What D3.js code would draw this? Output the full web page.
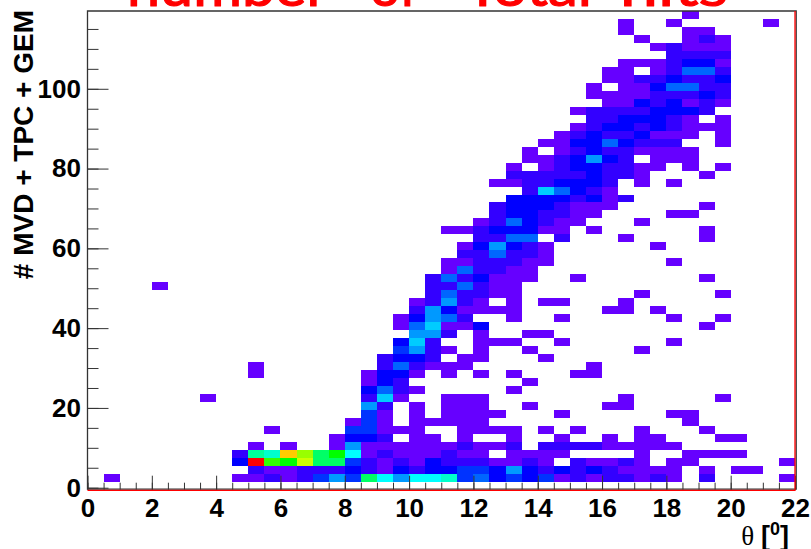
<!DOCTYPE html>
<html lang="en">
<head>
    <meta charset="UTF-8">
    <title>Number of total hits</title>
    <script src="https://d3js.org/d3.v7.min.js"></script>
    <style>
        body{
            margin: 0;
            background-color: #ffffff;
        }
        svg{
            display: block;
        }
        .tick-label text, .axis-title{
            font-family: 'Liberation Sans', sans-serif;
            font-weight: bold;
            fill: #000000;
        }
        .title-word{
            font-family: 'Lato', sans-serif;
            font-size: 54px;
            fill: #ff0000;
            stroke: #ff0000;
            stroke-width: 1.2px;
            stroke-linejoin: round;
        }
    </style>
</head>
<body>
    <svg id="canvas" width="811" height="549"></svg>
<script>
let thetaMax = 22
let thetaBinWidth = 0.5
let hitsBinWidth = 2
let hitsRange = [-0.5, 119.5]

let thetaLabels = [0, 2, 4, 6, 8, 10, 12, 14, 16, 18, 20, 22]
let hitsLabels = [0, 20, 40, 60, 80, 100]
let thetaMinor = d3.range(0, 22.5, 0.5)
let hitsMinor = d3.range(0, 120, 5)

let titleWords = ['number', 'of', 'Total', 'hits']
let titleStarts = [127, 370, 465, 620]
let titleEnds = [328, 418, 592, 728]

// one entry per hits bin (bin 0 is empty), { theta bin : entries }
let hitsBins = d3.range(1, 60)
let binCounts = [
    {1:1,9:1,10:1,11:2,12:1,13:2,14:4,15:6,16:4,17:11,18:8,19:6,20:8,21:8,22:9,23:4,24:5,25:3,26:4,27:3,28:4,29:1,30:2,31:1,32:2,33:2,34:1,35:2,36:1,38:2,43:1},
    {10:2,11:1,12:1,13:2,14:2,15:2,16:3,17:2,18:1,19:3,20:2,21:3,22:3,23:4,24:4,25:3,26:6,27:3,28:2,29:3,30:2,31:3,32:2,33:1,34:1,35:1,36:1,38:1,40:1,41:1},
    {9:3,10:23,11:14,12:13,13:17,14:11,15:11,16:4,17:2,18:1,19:2,20:1,21:3,22:2,23:2,24:2,25:1,26:1,27:2,28:1,30:2,31:1,32:1,33:2,34:1,36:1,37:1,43:1},
    {9:2,10:10,11:9,12:19,13:16,14:11,15:13,16:8,17:1,18:2,19:1,20:1,21:1,22:2,23:1,24:1,26:1,27:1,28:1,29:1,34:1,37:1,38:1,39:1,40:1},
    {10:1,12:1,15:1,16:6,17:1,18:1,19:1,20:1,21:1,22:1,23:2,24:1,25:1,26:2,28:2,29:2,30:2,31:2,32:1,33:1,34:1,35:1,36:1},
    {15:1,16:3,17:3,18:2,20:1,21:1,23:1,26:1,29:1,32:1,34:1,35:1,39:1,40:1},
    {11:1,16:4,17:4,18:1,19:1,20:1,23:1,24:1,25:1,26:1,28:1,30:1,34:1,38:1},
    {16:1,17:4,18:1,20:1,21:1,22:1,23:1,24:1,37:1},
    {17:4,18:1,20:1,22:1,23:1,24:1,25:1,29:1,36:1,37:1},
    {17:6,18:2,20:1,22:1,23:1,24:1,27:1,32:1,33:1},
    {7:1,17:2,18:7,19:1,22:1,23:1,24:1,33:1,39:1},
    {17:3,18:5,19:2,20:1,26:1},
    {17:1,18:3,19:2,27:1},
    {10:1,17:1,18:3,19:3,20:1,22:1,24:1,26:1,30:1,31:1},
    {10:1,18:2,19:5,20:2,21:1,22:1,23:1,31:1},
    {18:2,19:3,20:3,21:2,23:1,24:1,28:1},
    {19:4,20:6,21:2,22:1,24:1,27:1,34:1},
    {19:3,20:7,21:2,24:1,25:1,26:1,29:1,36:1},
    {20:6,21:6,22:2,24:1,27:1,28:1},
    {19:1,20:5,21:7,22:1,23:1,24:3,38:1},
    {19:1,20:3,21:6,22:5,23:2,26:1,29:1,36:1,39:1},
    {20:2,21:6,22:3,23:1,24:1,25:1,26:1,32:1,33:1,35:1},
    {20:1,21:2,22:6,23:2,24:1,26:1,28:1,29:1,33:1},
    {21:2,22:5,23:2,24:2,25:1,26:1,34:1,39:1},
    {4:1,21:2,22:2,23:5,24:2,25:1,26:1},
    {21:2,22:5,23:2,24:3,25:1,26:1,27:1,30:1,38:1},
    {22:1,23:5,24:2,25:2,26:1,27:1},
    {22:1,23:1,24:2,25:2,26:2,27:1,28:1,36:1},
    {23:2,24:2,25:5,26:2,27:2,28:1},
    {23:1,24:3,25:6,26:3,27:2,28:1,35:1},
    {24:2,25:2,26:5,27:5,29:2,33:1,38:1},
    {22:1,23:1,24:2,25:3,26:3,27:3,28:1,29:1,31:1,38:1},
    {24:1,25:2,26:5,27:3,28:2,29:1,30:1,34:1},
    {25:2,26:3,27:3,28:2,29:2,30:1,31:1,36:1,37:1},
    {25:2,26:3,27:3,28:3,29:2,30:1,31:1,32:1,38:1},
    {26:3,27:3,28:3,29:3,30:2,31:3,32:1,33:2},
    {27:2,28:7,29:5,30:3,31:2,32:1},
    {25:1,26:1,27:2,28:2,29:3,30:3,31:3,32:2,34:1,36:1},
    {26:2,27:2,28:2,29:2,30:2,31:3,32:2,33:2,34:1,38:1},
    {26:1,28:1,29:2,30:3,31:3,32:2,33:2,34:1,35:1,37:1,39:1},
    {27:1,28:1,29:2,30:3,31:6,32:3,33:2,35:1,36:1,37:1},
    {27:1,29:1,30:2,31:3,32:2,33:2,34:1,35:1,36:1,37:1},
    {28:1,29:1,30:3,31:3,32:5,33:3,34:2,35:2,36:2,39:1},
    {29:1,30:2,31:3,32:2,33:2,34:3,35:1,36:1,37:1,39:1},
    {30:1,31:2,32:3,33:3,34:2,35:3,36:2,37:1,38:1,39:1},
    {31:2,32:2,33:3,34:3,35:3,36:2,37:1,39:1},
    {30:1,31:2,32:2,33:2,34:2,35:3,36:3,37:3,38:2},
    {32:1,33:1,34:3,35:2,36:3,37:1,38:2,39:1},
    {31:1,32:1,33:1,34:1,35:2,36:2,37:2,38:3,39:2},
    {31:1,33:1,34:1,35:3,36:5,37:5,38:2,39:2},
    {32:1,33:1,34:2,35:2,36:3,37:2,38:2,39:3},
    {32:1,33:1,35:1,36:2,37:5,38:5,39:2},
    {33:1,34:1,35:1,36:2,37:3,38:3,39:1},
    {36:2,37:2,38:2,39:2},
    {35:1,36:2,37:1,38:1,39:1},
    {34:1,37:1,38:2,39:1},
    {33:1,37:1,38:1},
    {33:1,36:1,42:1},
    {37:1}
]

let canvas = d3.select('#canvas')

let xScale = d3.scaleLinear().domain([0, thetaMax]).range([87.5, 795])
let yScale = d3.scaleLinear().domain(hitsRange).range([489.7, 11])

// rainbow palette: violet for one entry round to red for the maximum
let hueScale = d3.scaleLinear().domain([1, 23]).range([264, 0])

let cells = []
hitsBins.forEach((bin, row) => {
    Object.entries(binCounts[row]).forEach(([thetaBin, count]) => {
        cells.push({theta: +thetaBin, bin: bin, count: count})
    })
})

canvas.selectAll('rect.cell')
    .data(cells)
    .enter()
    .append('rect')
    .attr('class', 'cell')
    .attr('x', (d) => xScale(d.theta * thetaBinWidth))
    .attr('width', (d) => xScale((d.theta + 1) * thetaBinWidth) - xScale(d.theta * thetaBinWidth))
    .attr('y', (d) => yScale(hitsRange[0] + (d.bin + 1) * hitsBinWidth))
    .attr('height', (d) => yScale(hitsRange[0] + d.bin * hitsBinWidth) - yScale(hitsRange[0] + (d.bin + 1) * hitsBinWidth))
    .attr('fill', (d) => d3.hsl(hueScale(d.count), 1, 0.5).formatHex())
    .attr('shape-rendering', 'crispEdges')

// minor ticks first, major ticks and labels on top
let bottomY = yScale.range()[0]
let leftX = xScale.range()[0]
let rightX = xScale.range()[1]
let topY = yScale.range()[1]

let cleanAxis = (g) => {
    g.select('.domain').remove()
    g.selectAll('line').attr('stroke', '#333333').attr('stroke-width', 1)
}

canvas.append('g')
    .attr('transform', `translate(0,${bottomY})`)
    .call(d3.axisBottom(xScale).tickValues(thetaMinor).tickSize(-7).tickFormat(''))
    .call(cleanAxis)

canvas.append('g')
    .attr('transform', `translate(${leftX},0)`)
    .call(d3.axisLeft(yScale).tickValues(hitsMinor).tickSize(-11).tickFormat(''))
    .call(cleanAxis)

canvas.append('g')
    .attr('class', 'tick-label')
    .attr('transform', `translate(0,${bottomY})`)
    .call(d3.axisBottom(xScale).tickValues(thetaLabels).tickSize(-14).tickPadding(9).tickFormat(d3.format('d')))
    .call(cleanAxis)
    .selectAll('text').style('font-size', '26px')

canvas.append('g')
    .attr('class', 'tick-label')
    .attr('transform', `translate(${leftX},0)`)
    .call(d3.axisLeft(yScale).tickValues(hitsLabels).tickSize(-21).tickPadding(6.5).tickFormat(d3.format('d')))
    .call(cleanAxis)
    .selectAll('text').style('font-size', '26px')

// frame: dark line inside, histogram outline in red on bottom and right
canvas.append('path')
    .attr('d', d3.line()([[rightX + 1.2, bottomY], [rightX + 1.2, topY], [leftX, topY], [leftX, bottomY - 0.6], [rightX, bottomY - 0.6]]))
    .attr('fill', 'none')
    .attr('stroke', '#333333')
    .attr('stroke-width', 1.3)

canvas.append('path')
    .attr('d', d3.line()([[leftX, bottomY + 0.6], [rightX, bottomY + 0.6], [rightX, topY]]))
    .attr('fill', 'none')
    .attr('stroke', '#ff0000')
    .attr('stroke-width', 1.3)

// the title sits partly above the top of the page, as in the original
canvas.selectAll('text.title-word')
    .data(titleWords)
    .enter()
    .append('text')
    .attr('class', 'title-word')
    .attr('x', (d, i) => titleStarts[i])
    .attr('y', 6)
    .attr('textLength', (d, i) => titleEnds[i] - titleStarts[i])
    .attr('lengthAdjust', 'spacingAndGlyphs')
    .text((d) => d)

canvas.append('text')
    .attr('class', 'axis-title')
    .attr('transform', 'translate(33,10) rotate(-90)')
    .attr('text-anchor', 'end')
    .style('font-size', '28px')
    .text('# MVD + TPC + GEM')

let xTitle = canvas.append('text')
    .attr('class', 'axis-title')
    .attr('x', 789)
    .attr('y', 545)
    .attr('text-anchor', 'end')
    .style('font-size', '27px')

xTitle.append('tspan')
    .style('font-family', "'Liberation Serif', serif")
    .style('font-weight', 'normal')
    .text('θ ')
xTitle.append('tspan').text('[')
xTitle.append('tspan').attr('dy', -10).style('font-size', '18px').text('0')
xTitle.append('tspan').attr('dy', 10).text(']')
</script>
</body>
</html>
